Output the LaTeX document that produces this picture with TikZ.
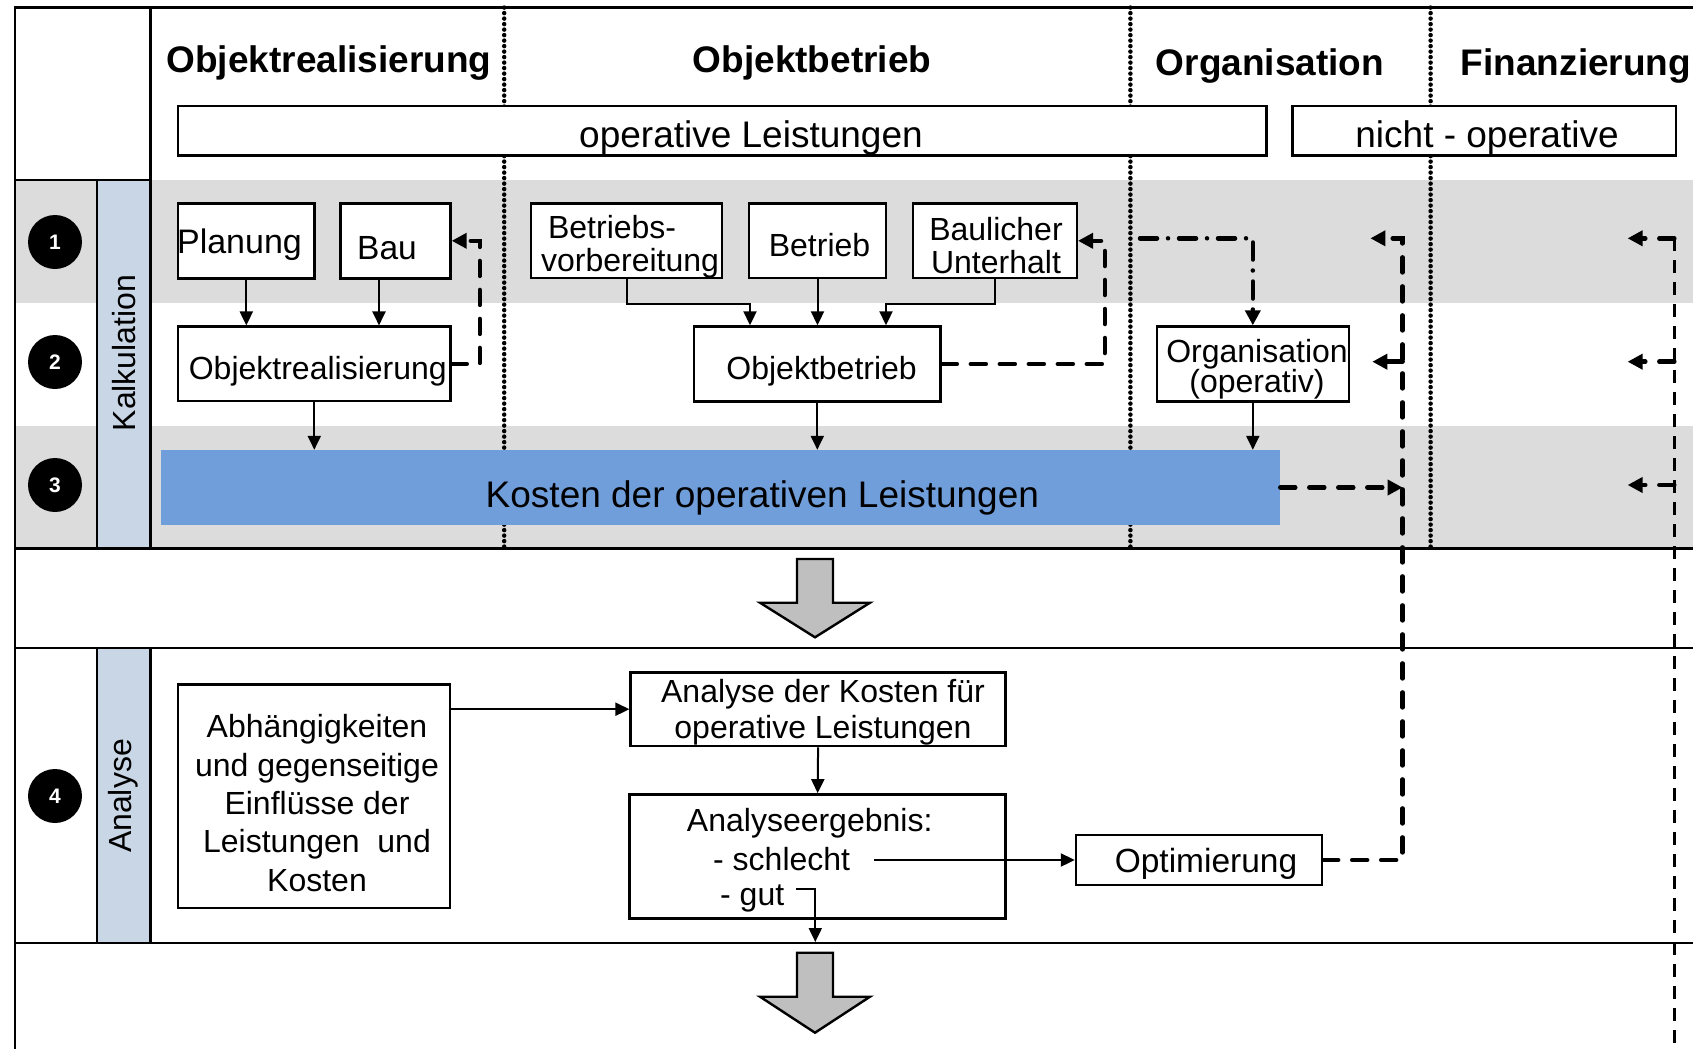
\documentclass[tikz,border=0pt]{standalone}
\usepackage{fontspec}
\setmainfont{Liberation Sans}
\usetikzlibrary{arrows.meta}
\definecolor{bandgray}{RGB}{220,220,220}
\definecolor{laneblue}{RGB}{200,214,230}
\definecolor{barblue}{RGB}{112,158,219}
\definecolor{arrgray}{RGB}{191,191,191}
\newcommand\fsz[2]{\fontsize{#1}{#2}\selectfont}
\begin{document}
\begin{tikzpicture}[x=1pt,y=-1pt,
 frame/.style={line width=2.4pt},
 colline/.style={line width=4.5pt, dash pattern=on 0pt off 5.5pt, line cap=round},
 box/.style={draw, line width=2.4pt, fill=white, inner sep=0pt},
 btxt/.style={align=center, inner sep=0pt, font=\fsz{32}{33}},
 lane/.style={draw, line width=2.4pt, fill=laneblue},
 lanetxt/.style={rotate=90, font=\fsz{32}{32}},
 head/.style={anchor=base, font=\bfseries\fsz{37}{37}},
 big/.style={font=\fsz{37}{37}},
 num/.style={circle, fill=black, minimum size=54pt, inner sep=0pt, text=white, font=\bfseries\fsz{21}{21}},
 arr/.style={line width=2pt, -{Triangle[length=14pt,width=13pt]}},
 thickdash/.style={line width=4.5pt, dash pattern=on 15pt off 14pt, line cap=round},
 dashdot/.style={line width=4.5pt, dash pattern=on 17pt off 11pt on 0pt off 11pt, line cap=round},
 thindash/.style={line width=2.6pt, dash pattern=on 13pt off 9pt},
 tipT/.style={-{Triangle[length=15pt,width=15pt]}},
 bigarrow/.style={draw, line width=2.4pt, fill=arrgray, line join=miter}
]
\useasboundingbox (0,0) rectangle (1693,1049);
% background bands
\fill[bandgray] (15,180) rectangle (1693,302.5);
\fill[bandgray] (15,426) rectangle (1693,548.5);
% frame lines
\draw[frame] (1693,7.6) -- (15,7.6) -- (15,1049);
\draw[frame] (15,180) -- (150.4,180);
\draw[frame] (150.4,7.6) -- (150.4,180);
\draw[frame] (15,548.5) -- (1693,548.5);
\draw[frame] (15,647.8) -- (1693,647.8);
\draw[frame] (15,943) -- (1693,943);
% lanes
\draw[lane] (96.9,180) rectangle (150.4,548.5);
\draw[lane] (96.9,647.8) rectangle (150.4,943);
\node[lanetxt] (kalk) at (123.6,353) {Kalkulation};
\node[lanetxt] (anal) at (123.6,796) {Analyse};
% column separators
\draw[colline] (504.2,7.6) -- (504.2,548.5);
\draw[colline] (1130.4,7.6) -- (1130.4,548.5);
\draw[colline] (1430.6,7.6) -- (1430.6,548.5);
% headers
\node[head] (h1) at (329,73) {Objektrealisierung};
\node[head] (h2) at (812,72) {Objektbetrieb};
\node[head] (h3) at (1270,75) {Organisation};
\node[head] (h4) at (1576,75) {Finanzierung};
% operative / nicht-operative
\node[box, minimum width=1088.3pt, minimum height=49.7pt] (op) at (722.35,130.65) {};
\node[big, anchor=base] (optxt) at (751,147.5) {operative Leistungen};
\node[box, minimum width=383.4pt, minimum height=49.7pt] (nop) at (1484.3,130.65) {};
\node[big, anchor=base] (noptxt) at (1487,147.5) {nicht - operative};
% numbers
\node[num] (n1) at (55,242) {1};
\node[num] (n2) at (55,362) {2};
\node[num] (n3) at (55,485) {3};
\node[num] (n4) at (55,796) {4};
% row 1
\node[box, minimum width=136.6pt, minimum height=75pt] (plan) at (246.3,240.8) {};
\node[btxt, font=\fsz{34}{34}] (planT) at (239.5,244.3) {Planung};
\node[box, minimum width=110pt, minimum height=75pt] (bau) at (395.5,240.8) {};
\node[btxt, font=\fsz{33.5}{34}] (bauT) at (387,248.5) {Bau};
\node[box, minimum width=191.3pt, minimum height=74.5pt] (bv) at (626.6,240.8) {};
\node[btxt, align=left] (bvT) at (630,247) {\hspace*{7pt}Betriebs-\\vorbereitung};
\node[box, minimum width=137pt, minimum height=74.5pt] (betr) at (817.5,240.8) {};
\node[btxt] (betrT) at (819.5,245) {Betrieb};
\node[box, minimum width=163.8pt, minimum height=74.5pt] (bu) at (994.9,240.8) {};
\node[btxt] (buT) at (996,245.3) {Baulicher\\Unterhalt};
% row 2
\node[box, minimum width=272.5pt, minimum height=74.5pt] (objr) at (314.3,363.9) {};
\node[btxt] (objrT) at (317.8,371.4) {Objektrealisierung};
\node[box, minimum width=246.6pt, minimum height=75pt] (objb) at (817.3,364) {};
\node[btxt] (objbT) at (821.6,371.5) {Objektbetrieb};
\node[box, minimum width=192.2pt, minimum height=75pt] (org) at (1252.8,364) {};
\node[btxt, font=\fsz{32}{30}] (orgT) at (1257,369) {Organisation\\(operativ)};
% row 3
\node[fill=barblue, minimum width=1119.3pt, minimum height=75pt, inner sep=0pt] (kost) at (720.4,487.5) {};
\node[big, anchor=base] (kosttxt) at (762.4,507) {Kosten der operativen Leistungen};
% big arrows
\draw[bigarrow] (797,559) -- (833,559) -- (833,602.7) -- (870,602.7) -- (815,637.3) -- (760,602.7) -- (797,602.7) -- cycle;
\draw[bigarrow] (797,952.7) -- (833,952.7) -- (833,996.7) -- (870,996.7) -- (815,1032.7) -- (760,996.7) -- (797,996.7) -- cycle;
% row 4
\node[box, minimum width=272.3pt, minimum height=223.4pt] (abh) at (313.9,796) {};
\node[btxt, font=\fsz{32}{38.3}] (abhT) at (317,803) {Abhängigkeiten\\und gegenseitige\\Einflüsse der\\Leistungen\ \ und\\Kosten};
\node[box, minimum width=375pt, minimum height=73.7pt] (ana) at (818.1,709.2) {};
\node[btxt, font=\fsz{32}{36}] (anaT) at (823,712.7) {Analyse der Kosten für\\operative Leistungen};
\node[box, minimum width=376pt, minimum height=124pt] (erg) at (817.6,856.3) {};
\node[anchor=base, font=\fsz{32}{32}] (erg1) at (809.7,831) {Analyseergebnis:};
\node[anchor=base west, inner sep=0pt, font=\fsz{32}{32}] (erg2) at (713,870) {- schlecht};
\node[anchor=base west, inner sep=0pt, font=\fsz{32}{32}] (erg3) at (720,905) {- gut};
\node[box, minimum width=246pt, minimum height=50pt] (opt) at (1199,860) {};
\node[btxt, font=\fsz{33.5}{34}] (optT) at (1206,864) {Optimierung};
% coordinates
\coordinate (bauS) at ([xshift=-16.5pt]bau.south);
\coordinate (obA) at ([xshift=-67.3pt]objb.north);
\coordinate (obC) at ([xshift=68.7pt]objb.north);
\coordinate (dd) at (1140,238.3);
\coordinate (vtop) at (1402.6,238.3);
\coordinate (t1) at (1370.4,238.3);
\coordinate (vm) at (1402.6,361.7);
\coordinate (t2) at (1372.3,361.7);
\coordinate (ftop) at (1674.3,238.3);
\coordinate (fmid) at (1674.3,361.7);
\coordinate (flow) at (1674.3,485);
\coordinate (fbot) at (1674.3,1049);
\coordinate (f1) at (1627.6,238.3);
\coordinate (f2) at (1627.6,361.7);
\coordinate (f3) at (1627.6,485);
\coordinate (sch) at ([xshift=24pt]erg2.east);
\coordinate (gs) at (796.4,889);
\coordinate (gutend) at (815.3,942);
% solid connectors
\draw[arr] (plan.south) -- (plan.south |- objr.north);
\draw[arr] (bauS) -- (bauS |- objr.north);
\draw[arr] (objr.south) -- (objr.south |- kost.north);
\draw[arr] (bv.south) -- ++(0,24.4) -| (obA);
\draw[arr] (betr.south) -- (betr.south |- objb.north);
\draw[arr] (bu.south) -- ++(0,24.4) -| (obC);
\draw[arr] (objb.south) -- (objb.south |- kost.north);
\draw[arr] (org.south) -- (org.south |- kost.north);
\draw[arr] (abh.east |- ana.west) -- (ana.west);
\draw[arr] (ana.south) -- (erg.north);
\draw[arr] (sch |- opt.west) -- (opt.west);
\draw[arr] (gs) -| (gutend);
% dashed connectors
\draw[dashdot, tipT] (dd) -| (org.north);
\draw[thickdash, tipT] (objr.east) -- ++(28,0) |- (bau.east);
\draw[thickdash, tipT] (objb.east) -- ++(163,0) |- (bu.east);
\draw[thickdash, tipT] (kost.east) -- (kost.east -| vtop);
\draw[thickdash, tipT] (opt.east) -| (vtop) -- (t1);
\draw[thickdash, tipT] (vm) -- (t2);
\draw[thindash] (ftop) -- (fbot);
\draw[thickdash, tipT] (ftop) -- (f1);
\draw[thickdash, tipT] (fmid) -- (f2);
\draw[thickdash, tipT] (flow) -- (f3);
\end{tikzpicture}
\end{document}
